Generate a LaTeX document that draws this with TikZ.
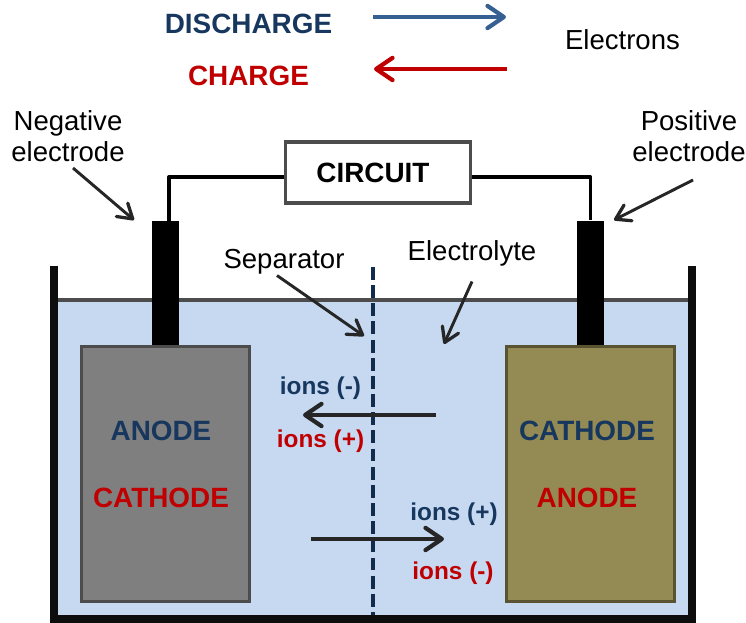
\documentclass[tikz,border=0pt]{standalone}
\usepackage{fontspec}
\setmainfont{Liberation Sans}
\usepackage{xcolor}
\usetikzlibrary{arrows.meta}
\definecolor{navytext}{HTML}{17375E}
\definecolor{redtext}{HTML}{C00000}
\definecolor{bluearrow}{HTML}{376092}
\definecolor{darkline}{HTML}{262626}
\definecolor{liquid}{HTML}{C6D9F1}
\definecolor{anodegray}{HTML}{7F7F7F}
\definecolor{cathodeolive}{HTML}{948A54}
\tikzset{
    plaintxt/.style={font=\fontsize{23.5}{27}\selectfont, align=center, inner sep=0pt},
    boldtxt/.style={font=\fontsize{23.8}{27}\selectfont\bfseries, inner sep=0pt},
    iontxt/.style={font=\fontsize{20.8}{25}\selectfont\bfseries, inner sep=0pt},
    barb/.style={-{Straight Barb[length=14pt,width=19pt,line width=3.6pt,round]}, line width=3.4pt},
    pointer/.style={-{Straight Barb[length=12pt,width=15pt,line width=2.8pt,round]}, line width=2.5pt, darkline},
    electrode/.style={draw, line width=2.8pt, minimum width=143pt, minimum height=218pt, inner sep=0pt},
    post/.style={fill=black, minimum width=23pt, minimum height=106pt, inner sep=0pt},
    wall/.style={line width=6pt, black!95}
}
\begin{document}
\begin{tikzpicture}[x=0.03cm, y=-0.03cm]
    \useasboundingbox (0,0) rectangle (746,623);

    % Bath
    \fill[liquid] (54,300) rectangle (692,619);
    \draw[line width=2.8pt, black!70] (54,300) -- (692,300);

    % Electrodes
    \node[electrode, fill=anodegray, draw=black!70] (anode) at (165.5,474) {};
    \node[electrode, fill=cathodeolive, draw=cathodeolive!60!black] (cathode) at (590.5,474) {};
    \node[post, anchor=south] (negpost) at (165.5,345) {};
    \node[post, anchor=south] (pospost) at (590.5,345) {};
    \coordinate (negwire) at (169,221);

    % Circuit
    \node[draw=black!70, line width=3pt, fill=white, minimum width=158pt, minimum height=52pt, inner sep=0pt] (circuit) at (378,172.5) {};
    \node[boldtxt, text=black] (circuittxt) at (373,173) {CIRCUIT};
    \draw[line width=2.8pt, line join=round] (circuit.west |- 0,177) -| (negwire);
    \draw[line width=2.8pt, line join=round] (circuit.east |- 0,177) -| (pospost.north);

    % Separator
    \coordinate (septop) at (373,267);
    \coordinate (sepbot) at (373,619);
    \draw[navytext!80!black, line width=3.9pt, dash pattern=on 11pt off 4.5pt] (septop) -- (sepbot);

    % Tank
    \draw[wall, line join=miter] (54,266) -- (54,619) -- (692,619) -- (692,266);

    % Legend
    \node[boldtxt, text=navytext] (discharge) at (248.5,23.5) {DISCHARGE};
    \node[boldtxt, text=redtext] (charge) at (248.5,75.5) {CHARGE};
    \node[plaintxt] (electrons) at (622.5,40) {Electrons};
    \coordinate (bluestart) at (373,17);
    \coordinate (blueend) at (506,17);
    \coordinate (redstart) at (507,69);
    \coordinate (redend) at (374,69);
    \draw[barb, bluearrow] (bluestart) -- (blueend);
    \draw[barb, redtext] (redstart) -- (redend);

    % Labels
    \node[plaintxt] (neglabel) at (68,136) {Negative\\electrode};
    \node[plaintxt] (poslabel) at (689,136) {Positive\\electrode};
    \node[plaintxt] (seplabel) at (284,261.5) {Separator};
    \node[plaintxt] (elytelabel) at (472,253.5) {Electrolyte};
    \coordinate (negtip) at (134,220);
    \coordinate (postip) at (614,220);
    \coordinate (septip) at (364,336);
    \coordinate (elytetip) at (444,344);
    \draw[pointer] (neglabel) ++(5,32) -- (negtip);
    \draw[pointer] (poslabel) ++(4,44) -- (postip);
    \draw[pointer] (seplabel) ++(-7,14) -- (septip);
    \draw[pointer] (elytelabel) ++(0,28) -- (elytetip);

    % Electrode names
    \node[boldtxt, text=navytext] (anodetxt) at (161,431) {ANODE};
    \node[boldtxt, text=redtext] (cathodetxt) at (161,498) {CATHODE};
    \node[boldtxt, text=navytext] (cathodetxtb) at (587,431) {CATHODE};
    \node[boldtxt, text=redtext] (anodetxtb) at (587,498) {ANODE};

    % Ions
    \node[iontxt, text=navytext] (ionsa) at (320.5,388) {ions (-)};
    \node[iontxt, text=redtext] (ionsb) at (320.5,441) {ions (+)};
    \node[iontxt, text=navytext] (ionsc) at (454,514) {ions (+)};
    \node[iontxt, text=redtext] (ionsd) at (453,573) {ions (-)};
    \coordinate (leftstart) at (436,415);
    \coordinate (leftend) at (303,415);
    \coordinate (rightstart) at (311,539);
    \coordinate (rightend) at (444,539);
    \draw[barb, darkline] (leftstart) -- (leftend);
    \draw[barb, darkline] (rightstart) -- (rightend);
\end{tikzpicture}
\end{document}
